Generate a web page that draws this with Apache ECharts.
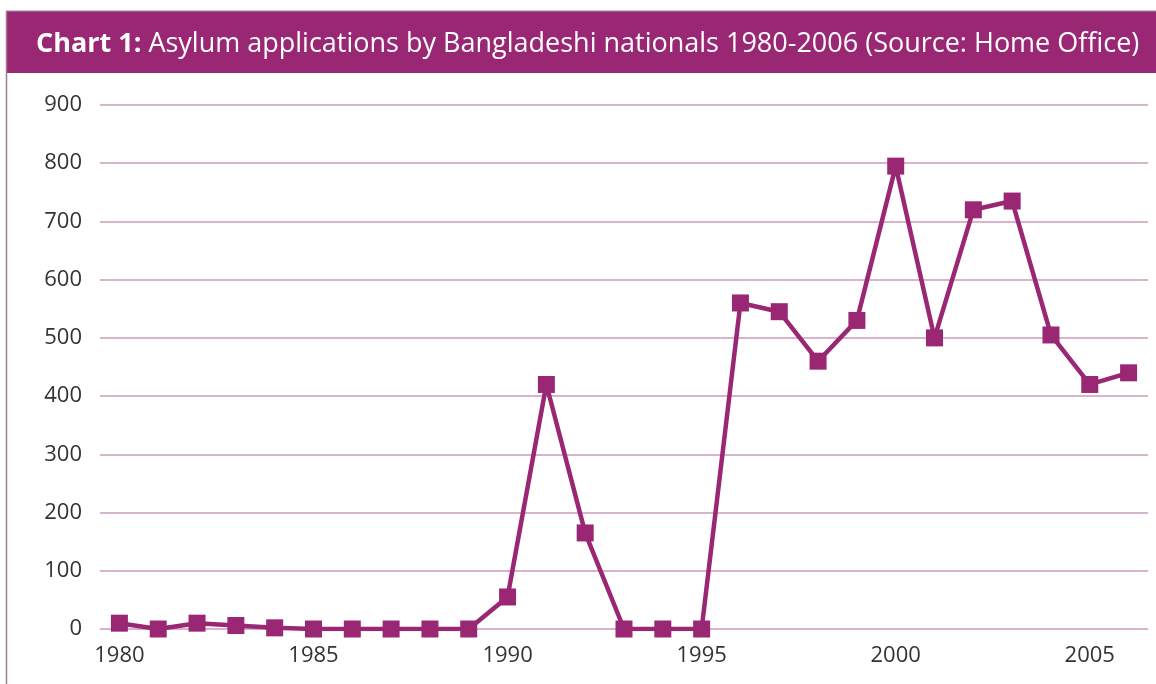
<!DOCTYPE html>
<html><head><meta charset="utf-8">
<script src="https://cdn.jsdelivr.net/npm/echarts@6/dist/echarts.min.js"></script>
<style>html,body{margin:0;padding:0;background:#fff;}#c{width:1156px;height:684px;}</style>
</head><body><div id="c"></div>
<script>
const years = ['1980','1981','1982','1983','1984','1985','1986','1987','1988','1989','1990','1991','1992','1993','1994','1995','1996','1997','1998','1999','2000','2001','2002','2003','2004','2005','2006'];
const applications = [10,0,10,6,2,0,0,0,0,0,55,420,165,0,0,0,560,545,460,530,795,500,720,735,505,420,440];
const yTicks = [0,100,200,300,400,500,600,700,800,900];

const purple = '#9A2774';
const chart = echarts.init(document.getElementById('c'));
chart.setOption({
  animation:false,
  graphic:[
    {type:'rect', shape:{x:6,y:11,width:1150,height:62}, style:{fill:purple}},
    {type:'line', shape:{x1:6,y1:11,x2:1156,y2:11}, style:{stroke:'#9a8f96',lineWidth:1}},
    {type:'line', shape:{x1:6.5,y1:11,x2:6.5,y2:684}, style:{stroke:'#a07a92',lineWidth:1.5}},
    {type:'text', left:36, top:31, style:{
      rich:{b:{fontWeight:'bold',fontSize:27,fill:'#fff',fontFamily:'Open Sans'},n:{fontSize:27,fill:'#fff',fontFamily:'Open Sans'}},
      text:'{b|Chart 1:}{n| Asylum applications by Bangladeshi nationals 1980-2006 (Source: Home Office)}'
    }}
  ],
  grid:{left:100, top:105, width:1048, height:524, containLabel:false},
  xAxis:{type:'category', data:years, boundaryGap:true,
    axisLine:{show:false}, axisTick:{show:false},
    axisLabel:{interval:4, color:'#333', fontSize:22, fontFamily:'Open Sans', margin:16}},
  yAxis:{type:'value', min:0, max:900, interval:100,
    axisLine:{show:false}, axisTick:{show:false},
    axisLabel:{color:'#333', fontSize:22, fontFamily:'Open Sans', margin:18,
      formatter:v=>yTicks.includes(v)?String(v):''},
    splitLine:{lineStyle:{color:'#d9b3cc', width:2}}},
  series:[{type:'line', data:applications, symbol:'rect', symbolSize:17,
    lineStyle:{color:purple, width:4.5}, itemStyle:{color:purple}}]
});
</script></body></html>
